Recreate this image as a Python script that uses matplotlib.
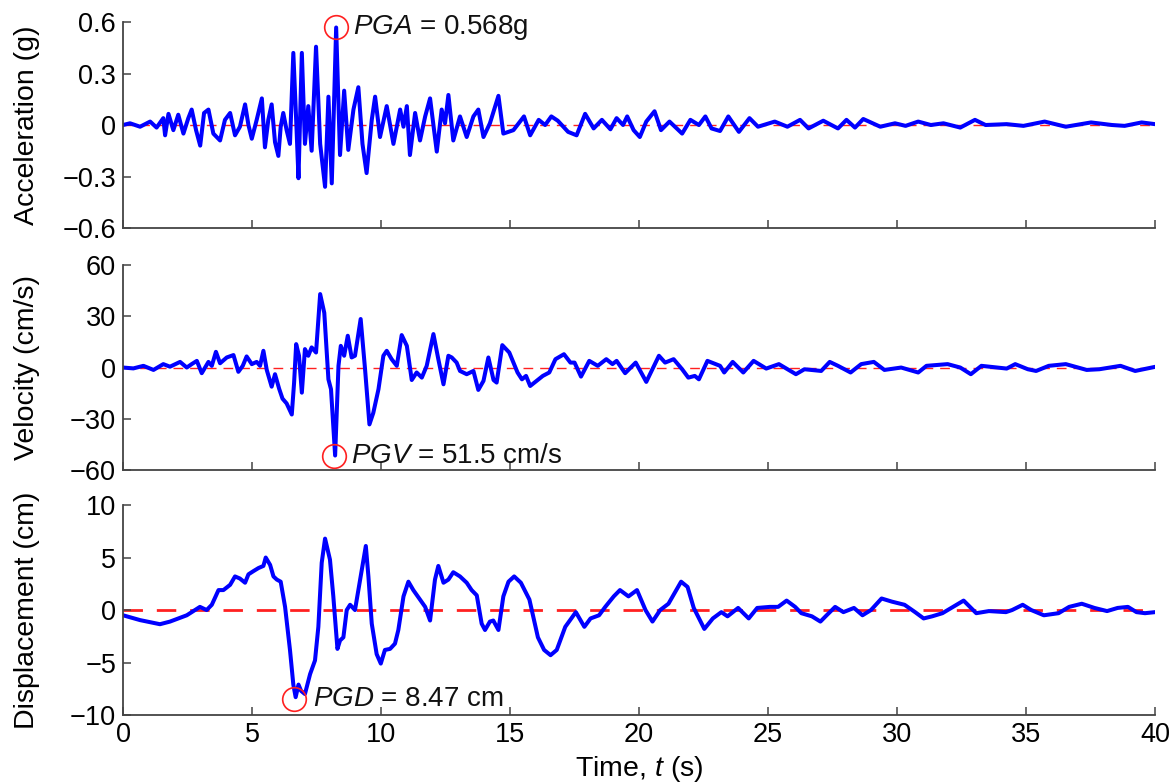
import numpy as np
import matplotlib
matplotlib.use("Agg")
import matplotlib.pyplot as plt

plt.rcParams['font.family'] = ['Liberation Sans', 'DejaVu Sans']
plt.rcParams['mathtext.fontset'] = 'custom'
plt.rcParams['mathtext.rm'] = 'Liberation Sans'
plt.rcParams['mathtext.it'] = 'Liberation Sans:italic'

# acceleration (g)
acc_t = [0, 0.27, 0.66, 1.05, 1.30, 1.56, 1.63, 1.76, 1.95, 2.14, 2.34, 2.53, 2.66, 2.83,
         2.99, 3.14, 3.31, 3.50, 3.76, 3.95, 4.15, 4.34, 4.53, 4.73, 4.86, 4.99, 5.18,
         5.38, 5.50, 5.63, 5.76, 5.89, 6.02, 6.11, 6.21, 6.34, 6.47, 6.60, 6.71, 6.80,
         6.93, 7.05, 7.18, 7.31, 7.48, 7.64, 7.74, 7.83, 7.96, 8.09, 8.26, 8.41, 8.57,
         8.73, 8.93, 9.12, 9.28, 9.44, 9.64, 9.77, 9.96, 10.22, 10.48, 10.74, 10.87,
         11.00, 11.12, 11.32, 11.51, 11.71, 11.90, 12.16, 12.35, 12.48, 12.61, 12.80,
         13.06, 13.32, 13.58, 13.77, 13.97, 14.22, 14.55, 14.74, 15.13, 15.54, 15.78,
         16.11, 16.36, 16.60, 16.85, 17.25, 17.58, 17.91, 18.24, 18.56, 18.89, 19.13,
         19.38, 19.54, 19.79, 20.03, 20.28, 20.60, 20.85, 21.18, 21.67, 21.99, 22.32,
         22.57, 22.81, 23.14, 23.46, 23.87, 24.28, 24.61, 25.26, 25.75, 26.24, 26.57,
         27.14, 27.71, 28.04, 28.37, 28.69, 29.35, 29.92, 30.33, 30.82, 31.31, 31.80,
         32.45, 33.02, 33.43, 34.25, 34.90, 35.72, 36.54, 37.52, 38.33, 38.82, 39.48, 40.0]
acc_g = [0, 0.01, -0.01, 0.02, -0.015, 0.04, -0.06, 0.065, -0.03, 0.06, -0.05, 0.04, 0.09,
         -0.03, -0.12, 0.07, 0.09, -0.05, -0.09, 0.03, 0.07, -0.06, -0.01, 0.12, 0.0, -0.08,
         0.03, 0.155, -0.13, 0.03, 0.12, -0.10, -0.18, -0.01, 0.07, -0.03, -0.11, 0.42,
         0.03, -0.31, 0.42, -0.11, 0.11, -0.15, 0.456, -0.11, -0.24, -0.36, 0.165, -0.34,
         0.568, -0.175, 0.20, -0.145, 0.09, 0.22, -0.11, -0.28, 0.03, 0.165, -0.07, 0.11,
         -0.11, 0.09, -0.01, 0.11, -0.175, 0.07, -0.09, 0.05, 0.155, -0.155, 0.09, 0.01,
         0.175, -0.09, 0.05, -0.07, 0.05, 0.09, -0.07, 0.01, 0.17, -0.05, -0.03, 0.05,
         -0.06, 0.03, 0.0, 0.05, 0.025, -0.04, -0.06, 0.065, -0.02, 0.03, -0.025, 0.04,
         0.0, 0.05, -0.03, -0.07, 0.02, 0.08, -0.03, 0.02, -0.05, 0.03, 0.0, 0.05, -0.02,
         -0.035, 0.05, -0.04, 0.04, -0.01, 0.02, -0.01, 0.03, -0.02, 0.025, -0.02, 0.03,
         -0.015, 0.035, -0.01, 0.01, -0.005, 0.02, 0.0, 0.01, -0.015, 0.03, 0.0, 0.005,
         -0.005, 0.02, -0.01, 0.015, 0.0, -0.005, 0.015, 0.005]

# velocity (cm/s)
vel_t = [0, 0.40, 0.79, 1.18, 1.56, 1.82, 2.21, 2.47, 2.66, 2.86, 3.05, 3.31, 3.44, 3.60,
         3.76, 4.02, 4.28, 4.47, 4.64, 4.79, 4.99, 5.18, 5.31, 5.44, 5.57, 5.76, 5.89,
         6.05, 6.18, 6.34, 6.54, 6.63, 6.71, 6.82, 6.93, 7.05, 7.18, 7.31, 7.48, 7.64,
         7.80, 7.96, 8.06, 8.22, 8.35, 8.44, 8.57, 8.71, 8.86, 8.99, 9.21, 9.38, 9.55,
         9.70, 9.90, 10.09, 10.22, 10.41, 10.61, 10.80, 11.00, 11.19, 11.38, 11.58, 11.77,
         12.03, 12.22, 12.42, 12.61, 12.74, 12.93, 13.06, 13.32, 13.58, 13.77, 13.97,
         14.16, 14.36, 14.48, 14.70, 14.97, 15.29, 15.46, 15.62, 15.78, 16.03, 16.27,
         16.52, 16.76, 17.09, 17.34, 17.50, 17.75, 18.07, 18.40, 18.73, 18.97, 19.13,
         19.46, 19.87, 20.28, 20.77, 21.01, 21.34, 21.67, 21.91, 22.16, 22.32, 22.65,
         23.14, 23.30, 23.63, 24.04, 24.44, 24.93, 25.42, 26.08, 26.41, 27.06, 27.39,
         27.71, 28.20, 28.61, 29.10, 29.51, 30.16, 30.82, 31.14, 31.96, 32.45, 32.86,
         33.27, 34.25, 34.58, 35.07, 35.39, 35.88, 36.54, 37.35, 37.84, 38.66, 39.23, 40.0]
vel_cms = [0, -0.5, 1, -1.4, 2, 0.5, 3.3, 0, 2, 3.9, -3.3, 3.3, 1, 9.2, 2.5, 5.9, 7.3, -2.5,
           1, 6.5, 2, 3.3, 1, 9.8, -1.4, -11.2, -3.9, -12.4, -18.2, -21, -27.5, -8.8, 13.7,
           6.9, -14.7, 10.8, 6.9, 11.8, 8.8, 43, 32, -6.9, -12.7, -51.5, 1, 12.7, 6.9, 18.6,
           5.9, 6.9, 28.4, -1, -33.3, -26.5, -12.7, 6.9, 9.8, 4.9, 1, 19, 12.7, -7.3, -2.9,
           -5.9, 1, 19.6, 4.9, -9.8, 6.9, 5.9, 2.9, -2, -3.9, -2, -13.1, -7.8, 5.9, -7.3,
           -8.8, 13.1, 8.8, -2.9, -6.9, -4.9, -10.8, -7.8, -4.9, -2.9, 4.9, 7.8, 2.9, 2.9,
           -5.3, 3.9, 1, 4.9, 2, 3.9, -3.3, 2.9, -8.4, 6.9, 2.9, 4.9, -1, -5.9, -4.9, -6.9,
           3.9, 1, -2.9, 3.3, -2.9, 3.9, -0.6, 2, -3.9, -1, -2, 3.3, 1, -2.9, 2, 3.3, -1.4,
           0, -2.9, 1, 2, 0, -3.9, 1, -0.6, 2, -1, -2, 1, 2, -1.4, -1, 1, -2, 0.4]

# displacement (cm)
dis_t = [0, 0.66, 1.43, 1.82, 2.47, 2.98, 3.24, 3.44, 3.70, 3.89, 4.15, 4.34, 4.53, 4.73,
         4.86, 5.05, 5.25, 5.44, 5.53, 5.70, 5.83, 5.96, 6.11, 6.28, 6.47, 6.60, 6.69,
         6.80, 6.90, 7.05, 7.25, 7.44, 7.57, 7.70, 7.83, 8.02, 8.15, 8.31, 8.41, 8.54,
         8.67, 8.80, 8.99, 9.19, 9.41, 9.51, 9.64, 9.83, 9.99, 10.15, 10.35, 10.54, 10.67,
         10.87, 11.06, 11.25, 11.51, 11.71, 11.90, 12.09, 12.22, 12.42, 12.61, 12.80,
         13.06, 13.32, 13.51, 13.71, 13.90, 14.03, 14.22, 14.35, 14.55, 14.74, 14.94,
         15.16, 15.42, 15.75, 16.08, 16.32, 16.57, 16.81, 17.14, 17.55, 17.88, 18.12,
         18.45, 18.69, 19.02, 19.26, 19.59, 19.92, 20.25, 20.52, 20.82, 21.14, 21.63,
         21.88, 22.12, 22.53, 22.86, 23.19, 23.43, 23.84, 24.25, 24.58, 25.07, 25.39,
         25.72, 26.05, 26.29, 26.70, 27.03, 27.27, 27.60, 27.92, 28.33, 28.66, 28.99,
         29.40, 29.80, 30.29, 30.70, 31.03, 31.36, 31.76, 32.17, 32.58, 33.07, 33.56,
         34.22, 34.46, 34.87, 35.20, 35.69, 36.26, 36.67, 37.16, 37.65, 38.14, 38.55,
         38.95, 39.28, 39.61, 40.0]
dis_cm = [-0.5, -0.96, -1.35, -1.1, -0.5, 0.3, 0, 0.5, 1.9, 1.9, 2.4, 3.2, 3.0, 2.6, 3.4,
          3.7, 4.0, 4.2, 5.0, 4.3, 3.2, 2.9, 2.7, 0.3, -3.8, -7.1, -8.3, -7.1, -7.7, -8.0,
          -6.1, -4.8, -1.6, 4.5, 6.8, 4.8, 1.3, -3.7, -2.9, -2.6, 0, 0.5, 0, 2.9, 6.1, 3.2,
          -1.3, -4.2, -5.1, -3.8, -3.7, -3.2, -1.9, 1.3, 2.7, 1.9, 1.0, 0.3, -1.0, 2.9, 4.2,
          2.6, 2.9, 3.6, 3.2, 2.6, 1.9, 1.4, -1.3, -1.9, -1.1, -1.0, -1.9, 1.3, 2.7, 3.2,
          2.6, 1.0, -2.6, -3.8, -4.3, -3.8, -1.6, -0.2, -1.6, -0.8, -0.5, 0.3, 1.3, 1.9,
          1.3, 1.9, 0, -1.1, 0, 0.6, 2.7, 2.2, 0.2, -1.8, -0.8, -0.2, -0.6, 0.2, -0.8, 0.2,
          0.3, 0.3, 0.9, 0.3, -0.3, -0.6, -1.1, -0.5, 0.3, -0.2, 0.2, -0.5, 0, 1.1, 0.8,
          0.5, -0.2, -0.8, -0.6, -0.3, 0.3, 0.9, -0.3, -0.1, -0.2, 0, 0.5, 0, -0.5, -0.3,
          0.3, 0.6, 0.2, -0.1, 0.2, 0.3, -0.2, -0.3, -0.2]

peaks = [(8.26, 0.568, '$PGA$ = 0.568g', 8.91),
         (8.18, -51.5, '$PGV$ = 51.5 cm/s', 8.84),
         (6.63, -8.47, '$PGD$ = 8.47 cm', 7.36)]
ylabels = ['Acceleration (g)', 'Velocity (cm/s)', 'Displacement (cm)']
ylims = [(-0.6, 0.6), (-60, 60), (-10, 10)]
yticks = [[-0.6, -0.3, 0, 0.3, 0.6], [-60, -30, 0, 30, 60], [-10, -5, 0, 5, 10]]
ytick_labels = [['\u22120.6', '\u22120.3', '0', '0.3', '0.6'],
                ['\u221260', '\u221230', '0', '30', '60'],
                ['\u221210', '\u22125', '0', '5', '10']]

fig = plt.figure(figsize=(11.73, 7.83), dpi=100)
boxes = [[0.1049, 0.7088, 0.8798, 0.2631],
         [0.1049, 0.3997, 0.8798, 0.2618],
         [0.1049, 0.0868, 0.8798, 0.2682]]
series = [(acc_t, acc_g), (vel_t, vel_cms), (dis_t, dis_cm)]
dash_lw = [1.0, 1.0, 2.0]

for i, box in enumerate(boxes):
    ax = fig.add_axes(box)
    t, v = series[i]
    ax.axhline(0, color='#ff2020', lw=dash_lw[i], dashes=(7, 5), zorder=1)
    ax.plot(t, v, color='#0000ff', lw=2.9, zorder=2)
    px, py, txt, tx = peaks[i]
    ax.plot(px, py, 'o', mfc='none', mec='#ff2020', ms=17, mew=1.2, zorder=3, clip_on=False)
    ax.text(tx, py, txt, fontsize=20, va='center', ha='left', color='#111111')
    ax.set_xlim(0, 40)
    ax.set_ylim(*ylims[i])
    ax.set_yticks(yticks[i])
    ax.set_yticklabels(ytick_labels[i])
    ax.set_xticks(range(0, 41, 5))
    if i < 2:
        ax.set_xticklabels([])
    else:
        ax.set_xlabel('Time, $t$ (s)', fontsize=20.5, labelpad=4)
    ax.set_ylabel(ylabels[i], fontsize=20.5)
    ax.yaxis.set_label_coords(-0.080, 0.5)
    for s in ['top', 'right']:
        ax.spines[s].set_visible(False)
    for s in ['left', 'bottom']:
        ax.spines[s].set_color('#444444')
        ax.spines[s].set_linewidth(1.3)
    ax.tick_params(direction='in', length=6, width=1.1, color='#444444',
                   labelsize=19.5, pad=5)

fig.savefig('out.png', dpi=100)
